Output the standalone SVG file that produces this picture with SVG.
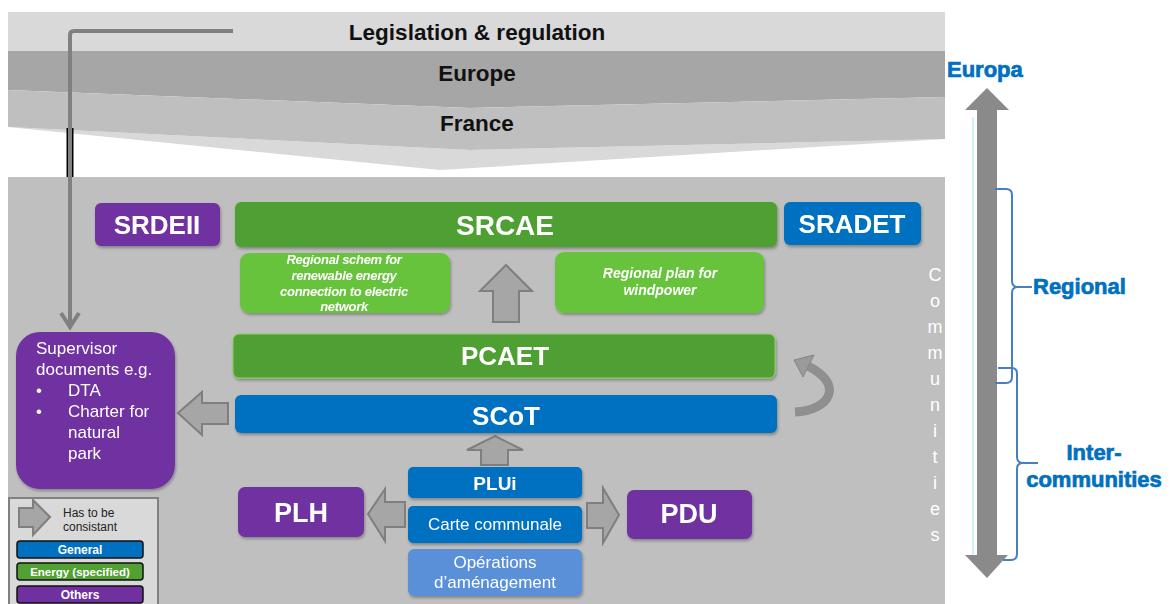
<svg xmlns="http://www.w3.org/2000/svg" width="1172" height="604" viewBox="0 0 1172 604">
<defs>
<style>
text{font-family:"Liberation Sans",Arial,sans-serif}
.t{fill:#fff;text-anchor:middle;font-weight:bold}
.band{font-size:22.5px;font-weight:bold;fill:#111;text-anchor:middle}
.purple{fill:#7030a0}
.green{fill:#50a032}
.lgreen{fill:#66c33a}
.blue{fill:#0070c0}
.lblue{fill:#5a90d8}
.blk{fill:#a6a6a6;stroke:#7f7f7f;stroke-width:2;stroke-linejoin:miter}
.side{fill:#0070c0;stroke:#0070c0;stroke-width:0.7;font-weight:bold;font-size:22px}
.brace{fill:none;stroke:#4a7ec4;stroke-width:2}
.com{fill:#fff;font-size:18px;text-anchor:middle}
.sup{fill:#fff;font-size:17px}
.it{fill:#fff;font-weight:bold;font-style:italic;text-anchor:middle}
</style>
<filter id="sh" x="-10%" y="-20%" width="125%" height="150%">
<feDropShadow dx="1" dy="2" stdDeviation="1.5" flood-color="#000" flood-opacity="0.3"/>
</filter>
</defs>
<rect width="1172" height="604" fill="#fff"/>

<!-- top bands -->
<g id="bands">
<rect x="8" y="12" width="937" height="39" fill="#d9d9d9"/>
<polygon points="8,51 945,51 945,97 470,108 8,90" fill="#a6a6a6"/>
<polygon points="8,127 440,170 945,139 470,150" fill="#d9d9d9"/>
<polygon points="8,90 470,108 945,97 945,139 470,150 8,127" fill="#bfbfbf"/>
<text class="band" x="477" y="40">Legislation &amp; regulation</text>
<text class="band" x="477" y="81">Europe</text>
<text class="band" x="477" y="131">France</text>
</g>

<!-- main panel -->
<rect x="8" y="177" width="937" height="427" fill="#bfbfbf"/>

<!-- communities vertical -->
<g id="communities">
<text class="com" x="935" y="281">C</text>
<text class="com" x="935" y="307">o</text>
<text class="com" x="935" y="333">m</text>
<text class="com" x="935" y="359">m</text>
<text class="com" x="935" y="385">u</text>
<text class="com" x="935" y="411">n</text>
<text class="com" x="935" y="437">i</text>
<text class="com" x="935" y="463">t</text>
<text class="com" x="935" y="489">i</text>
<text class="com" x="935" y="515">e</text>
<text class="com" x="935" y="541">s</text>
</g>

<!-- connectors -->
<g id="connectors">
<line x1="70" y1="128" x2="70" y2="177" stroke="#000" stroke-width="7"/>
<line x1="70" y1="128" x2="70" y2="177" stroke="#555" stroke-width="1.2"/>
<path d="M233,31 H74 Q70,31 70,35 V328" fill="none" stroke="#808080" stroke-width="4"/>
<polyline points="61,313 70,327 79,313" fill="none" stroke="#808080" stroke-width="4" stroke-linejoin="miter"/>
<polygon class="blk" points="506,265 532,291 519,291 519,322 493,322 493,291 480,291"/>
<polygon class="blk" points="178,413 202,392 202,403 228,403 228,424 202,424 202,435"/>
<polygon class="blk" points="495,436 523,450 508,450 508,465 481,465 481,450 467,450"/>
<polygon class="blk" points="368,514 385,489 385,502 405,502 405,527 385,527 385,541"/>
<polygon class="blk" points="619,515 603,488 603,503 587,503 587,528 603,528 603,543"/>
<path d="M795,412 C830,410 845,385 808,366" fill="none" stroke="#8f8f8f" stroke-width="9"/>
<polygon points="794,360 814,355 803,377" fill="#9a9a9a" stroke="#858585" stroke-width="1"/>
</g>

<!-- nodes -->
<g id="SRDEII" filter="url(#sh)"><rect class="purple" x="95" y="203" width="125" height="43" rx="6"/><text class="t" x="157" y="234" font-size="26">SRDEII</text></g>
<g id="SRCAE" filter="url(#sh)"><rect class="green" x="235" y="202" width="542" height="45" rx="6"/><text class="t" x="505" y="235" font-size="28">SRCAE</text></g>
<g id="SRADET" filter="url(#sh)"><rect class="blue" x="784" y="202" width="137" height="43" rx="6"/><text class="t" x="852" y="233" font-size="26">SRADET</text></g>
<g id="schem" filter="url(#sh)"><rect class="lgreen" x="240" y="253" width="210" height="60" rx="9"/>
<text class="it" x="344" y="264" font-size="13" letter-spacing="-0.3">Regional schem for</text>
<text class="it" x="344" y="280" font-size="13" letter-spacing="-0.3">renewable energy</text>
<text class="it" x="344" y="296" font-size="13" letter-spacing="-0.3">connection to electric</text>
<text class="it" x="344" y="311" font-size="13" letter-spacing="-0.3">network</text></g>
<g id="windpower" filter="url(#sh)"><rect class="lgreen" x="555" y="252" width="209" height="61" rx="9"/>
<text class="it" x="660" y="278" font-size="14">Regional plan for</text>
<text class="it" x="660" y="295" font-size="14">windpower</text></g>
<g id="PCAET" filter="url(#sh)"><rect class="green" x="233" y="334" width="542" height="44" rx="6" stroke="#8ccf5c" stroke-width="1"/><text class="t" x="505" y="365" font-size="26">PCAET</text></g>
<g id="SCoT" filter="url(#sh)"><rect class="blue" x="235" y="395" width="542" height="38" rx="6"/><text class="t" x="506" y="425" font-size="26">SCoT</text></g>
<g id="Supervisor" filter="url(#sh)"><rect class="purple" x="16" y="332" width="159" height="157" rx="24"/>
<text class="sup" x="36" y="354">Supervisor</text>
<text class="sup" x="36" y="375">documents e.g.</text>
<text class="sup" x="36" y="396">•</text><text class="sup" x="68" y="396">DTA</text>
<text class="sup" x="36" y="417">•</text><text class="sup" x="68" y="417">Charter for</text>
<text class="sup" x="68" y="438">natural</text>
<text class="sup" x="68" y="459">park</text></g>
<g id="PLUi" filter="url(#sh)"><rect class="blue" x="408" y="467" width="174" height="31" rx="5"/><text class="t" x="495" y="490" font-size="19">PLUi</text></g>
<g id="Carte" filter="url(#sh)"><rect class="blue" x="408" y="506" width="174" height="37" rx="5"/><text x="495" y="530" font-size="17" fill="#fff" text-anchor="middle">Carte communale</text></g>
<g id="Operations" filter="url(#sh)"><rect class="lblue" x="408" y="549" width="174" height="47" rx="6"/>
<text x="495" y="568" font-size="17" fill="#fff" text-anchor="middle">Opérations</text>
<text x="495" y="588" font-size="17" fill="#fff" text-anchor="middle">d’aménagement</text></g>
<g id="PLH" filter="url(#sh)"><rect class="purple" x="238" y="487" width="126" height="50" rx="7"/><text class="t" x="301" y="522" font-size="27">PLH</text></g>
<g id="PDU" filter="url(#sh)"><rect class="purple" x="627" y="490" width="125" height="49" rx="7"/><text class="t" x="689" y="523" font-size="27">PDU</text></g>

<!-- legend -->
<g id="legend">
<rect x="9" y="498" width="149" height="110" fill="#d9d9d9" stroke="#808080" stroke-width="2"/>
<polygon class="blk" points="50,517 33,500 33,508 19,508 19,527 33,527 33,535"/>
<text x="63" y="517" font-size="12" fill="#222">Has to be</text>
<text x="63" y="531" font-size="12" fill="#222">consistant</text>
<rect x="17" y="541" width="126" height="17" rx="3" class="blue" stroke="#111" stroke-width="1.5"/>
<text class="t" x="80" y="554" font-size="12">General</text>
<rect x="17" y="563" width="126" height="17" rx="3" class="green" stroke="#111" stroke-width="1.5"/>
<text class="t" x="80" y="576" font-size="11.5">Energy (specified)</text>
<rect x="17" y="586" width="126" height="17" rx="3" class="purple" stroke="#111" stroke-width="1.5"/>
<text class="t" x="80" y="599" font-size="12">Others</text>
</g>

<!-- right scale -->
<g id="scale">
<line x1="973" y1="117" x2="973" y2="556" stroke="#9fe8f5" stroke-width="1"/>
<rect x="977" y="109" width="20" height="448" fill="#8a8a8a"/>
<polygon points="987,88 1009,110 965,110" fill="#8a8a8a"/>
<polygon points="987,578 1008,555 965,555" fill="#8a8a8a"/>
<text class="side" x="947" y="77">Europa</text>
<path class="brace" d="M995,189 H1006 Q1012,189 1012,195 V281 Q1012,287 1018,287 Q1012,287 1012,293 V377 Q1012,383 1006,383 H995"/>
<line class="brace" x1="1018" y1="287" x2="1032" y2="287"/>
<text class="side" x="1033" y="294">Regional</text>
<path class="brace" d="M998,368 H1012 Q1017,368 1017,374 V457 Q1017,463 1023,463 Q1017,463 1017,469 V554 Q1017,560 1011,560 H1003"/>
<line class="brace" x1="1023" y1="463" x2="1038" y2="463"/>
<text class="side" x="1094" y="460" text-anchor="middle">Inter-</text>
<text class="side" x="1094" y="487" text-anchor="middle">communities</text>
</g>
</svg>
